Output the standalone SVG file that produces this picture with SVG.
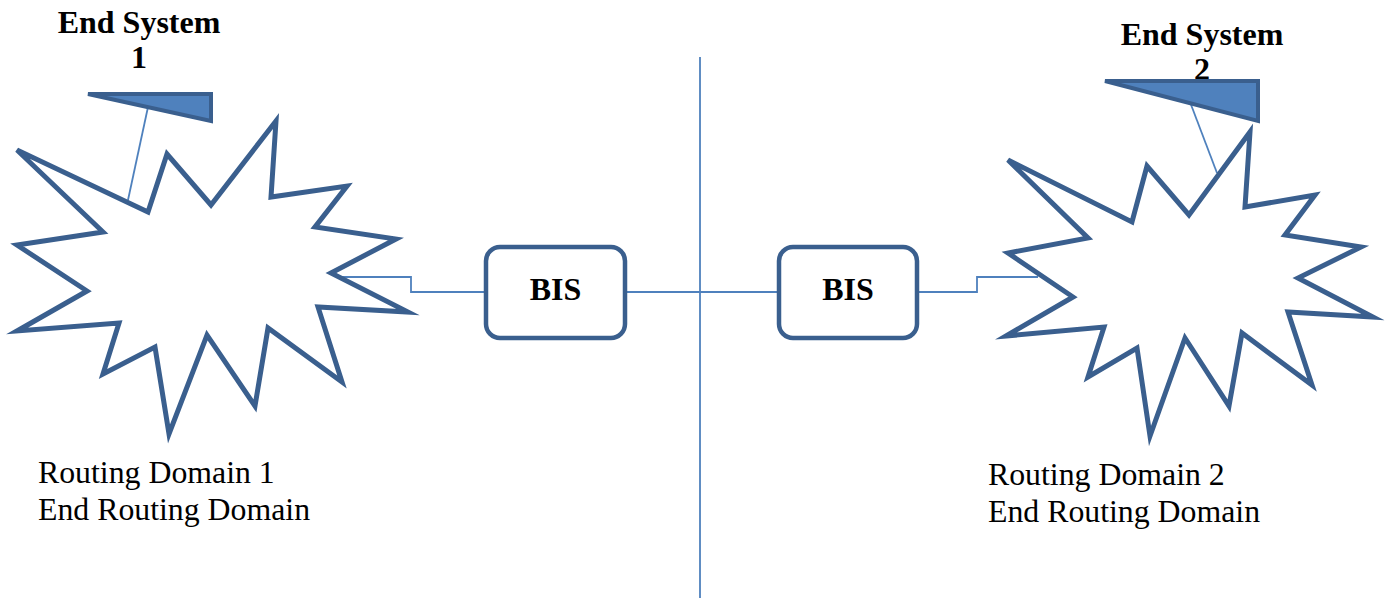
<svg xmlns="http://www.w3.org/2000/svg" width="1387" height="598" viewBox="0 0 1387 598">
<style>
.star{fill:#fff;stroke:#3A5F8E;stroke-width:5;stroke-linejoin:miter;stroke-miterlimit:5}
.es{fill:#4F81BD;stroke:#3A5F8E;stroke-width:4;stroke-linejoin:miter;stroke-miterlimit:4}
.box{fill:#fff;stroke:#3A5F8E;stroke-width:4.5}
.ln{fill:none;stroke:#4F81BD;stroke-width:1.8}
.b{font-family:"Liberation Serif","Times New Roman",serif;font-weight:bold;font-size:32px;fill:#000}
.r{font-family:"Liberation Serif","Times New Roman",serif;font-size:31.8px;fill:#000}
</style>
<rect width="1387" height="598" fill="#fff"/>
<g id="connectors">
<line class="ln" x1="700" y1="57" x2="700" y2="598"/>
<polyline class="ln" points="333,277 411,277 411,292 486,292"/>
<line class="ln" x1="627" y1="292" x2="779" y2="292"/>
<polyline class="ln" points="919,292 977,292 977,277 1038,277"/>
<line class="ln" x1="148" y1="107" x2="128" y2="200"/>
<line class="ln" x1="1190" y1="102" x2="1217" y2="173"/>
</g>
<g id="domain1">
<polygon class="star" points="17,150 148,212 167,154 211,205 276,121 271,197 347,186 315,227 396,239 331,273 408,312 318,307 342,382 268,328 255,406 207,335 169,434 155,347 103,374 119,323 17,331 87,291 17,245 103,232"/>
<text class="r" x="38" y="483">Routing Domain 1</text>
<text class="r" x="38" y="520">End Routing Domain</text>
</g>
<g id="domain2">
<polygon class="star" points="1008,160 1132,222 1147,166 1189,215 1250,132 1245,207 1315,195 1285,235 1361,247 1298,278 1373,317 1288,312 1312,385 1242,333 1229,406 1185,338 1150,436 1137,348 1088,377 1104,327 1006,336 1073,297 1008,253 1088,238"/>
<text class="r" x="988" y="485">Routing Domain 2</text>
<text class="r" x="988" y="522">End Routing Domain</text>
</g>
<g id="endsystem1">
<polygon class="es" points="88,94 211,94 211,121"/>
<text class="b" x="139" y="33" text-anchor="middle">End System</text>
<text class="b" x="139" y="68" text-anchor="middle">1</text>
</g>
<g id="endsystem2">
<text class="b" x="1202" y="45" text-anchor="middle">End System</text>
<text class="b" x="1202" y="80" text-anchor="middle">2</text>
<polygon class="es" points="1105,81 1258,81 1258,121"/>
</g>
<g id="bis1">
<rect class="box" x="486" y="247" width="139" height="91" rx="14"/>
<text class="b" x="555.5" y="300" text-anchor="middle">BIS</text>
</g>
<g id="bis2">
<rect class="box" x="779" y="247" width="138" height="91" rx="14"/>
<text class="b" x="848" y="300" text-anchor="middle">BIS</text>
</g>
</svg>
